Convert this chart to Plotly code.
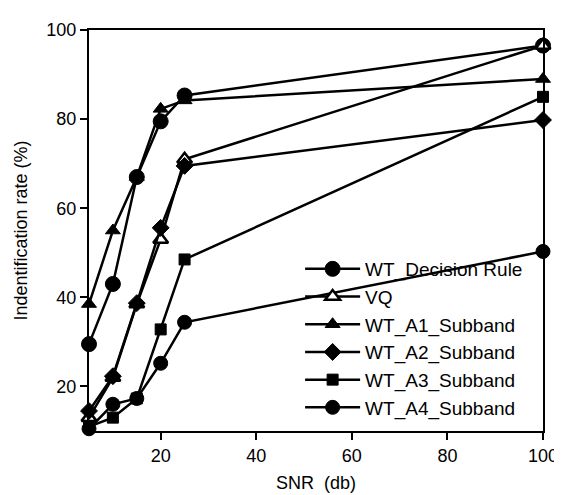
import plotly.graph_objects as go

snr = [5, 10, 15, 20, 25, 100]
wt_decision_rule = [29.5, 43, 67, 79.5, 85.3, 96.5]
vq = [13, 22, 38.5, 53, 71, 96.5]
wt_a1 = [38.5, 55, 67, 82.3, 84.2, 89]
wt_a2 = [14.5, 22.3, 38.7, 55.6, 69.5, 79.8]
wt_a3 = [11, 13, 17.3, 32.8, 48.5, 85]
wt_a4 = [10.5, 16, 17.3, 25.2, 34.4, 50.3]

series = [
    ("WT_Decision Rule", wt_decision_rule, "circle", 15, "black"),
    ("VQ", vq, "triangle-up", 13, "white"),
    ("WT_A1_Subband", wt_a1, "triangle-up", 13, "black"),
    ("WT_A2_Subband", wt_a2, "diamond", 13, "black"),
    ("WT_A3_Subband", wt_a3, "square", 11, "black"),
    ("WT_A4_Subband", wt_a4, "circle", 14, "black"),
]

fig = go.Figure()
for name, vals, sym, size, fill in series:
    fig.add_trace(go.Scatter(
        x=snr, y=vals, name=name, mode="lines+markers",
        line=dict(color="black", width=2.5),
        marker=dict(symbol=sym, size=size, color=fill,
                    line=dict(color="black", width=2.5 if fill == "white" else 1)),
        cliponaxis=False,
    ))

font = "Liberation Sans, Arial, sans-serif"
fig.update_layout(
    width=562, height=495,
    margin=dict(l=81, r=15, t=15, b=72),
    paper_bgcolor="white", plot_bgcolor="white",
    font=dict(family=font, size=18, color="black"),
    showlegend=True,
    legend=dict(x=0.465, y=0.01, xanchor="left", yanchor="bottom",
                bgcolor="rgba(0,0,0,0)", font=dict(size=19),
                tracegroupgap=0, itemwidth=55),
    xaxis=dict(range=[5, 100], tickvals=[20, 40, 60, 80, 100],
               showline=True, linecolor="black", linewidth=2, mirror=True,
               ticks="outside", ticklen=7, tickwidth=1.5, tickcolor="black",
               showgrid=False, zeroline=False, tickfont=dict(size=18),
               ticklabeloverflow="allow",
               title=dict(text="SNR  (db)", standoff=12, font=dict(size=18))),
    yaxis=dict(range=[10, 100], tickvals=[20, 40, 60, 80, 100],
               showline=True, linecolor="black", linewidth=2, mirror=True,
               ticks="outside", ticklen=7, tickwidth=1.5, tickcolor="black",
               showgrid=False, zeroline=False, tickfont=dict(size=18),
               title=dict(text="Indentification rate (%)", standoff=14, font=dict(size=18))),
)

fig.write_html("out.html")
